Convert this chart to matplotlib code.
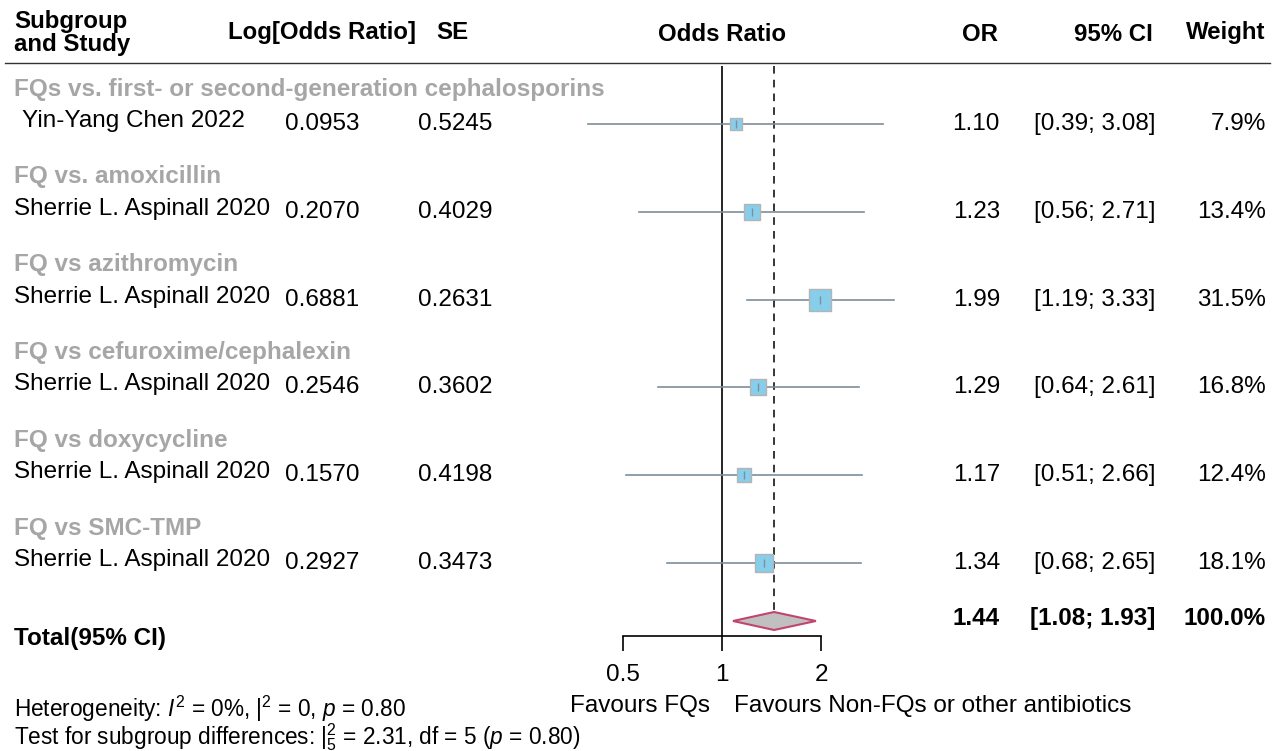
import numpy as np
import matplotlib
matplotlib.use("Agg")
import matplotlib.pyplot as plt
from matplotlib.transforms import blended_transform_factory
from matplotlib.lines import Line2D

plt.rcParams['font.family'] = ['Liberation Sans', 'DejaVu Sans']
plt.rcParams['mathtext.fontset'] = 'custom'
plt.rcParams['mathtext.rm'] = 'Liberation Sans'
plt.rcParams['mathtext.it'] = 'Liberation Sans:italic'
plt.rcParams['mathtext.bf'] = 'Liberation Sans:bold'

# data
groups = ["FQs vs. first- or second-generation cephalosporins",
          "FQ vs. amoxicillin",
          "FQ vs azithromycin",
          "FQ vs cefuroxime/cephalexin",
          "FQ vs doxycycline",
          "FQ vs SMC-TMP"]
studies = ["Yin-Yang Chen 2022"] + ["Sherrie L. Aspinall 2020"] * 5
log_or = ["0.0953", "0.2070", "0.6881", "0.2546", "0.1570", "0.2927"]
se = ["0.5245", "0.4029", "0.2631", "0.3602", "0.4198", "0.3473"]
odds = [1.10, 1.23, 1.99, 1.29, 1.17, 1.34]
ci_lo = [0.39, 0.56, 1.19, 0.64, 0.51, 0.68]
ci_hi = [3.08, 2.71, 3.33, 2.61, 2.66, 2.65]
weight = [7.9, 13.4, 31.5, 16.8, 12.4, 18.1]
tot_or, tot_lo, tot_hi, tot_w = 1.44, 1.08, 1.93, 100.0

W, H = 1277, 751
fig = plt.figure(figsize=(W / 100, H / 100), dpi=100)

# forest axes: x=1 at px 722, 99 px per doubling; rows in pixel units
ax = fig.add_axes([560 / W, (H - 636) / H, 350 / W, 570 / H])
ax.set_xscale('log', base=2)
ax.set_xlim(2 ** (-162 / 99), 2 ** (188 / 99))
ax.set_ylim(636, 66)
for s in ['top', 'left', 'right']:
    ax.spines[s].set_visible(False)
ax.spines['bottom'].set_bounds(0.5, 2)
ax.spines['bottom'].set_linewidth(1.2)
ax.set_xticks([0.5, 1, 2])
ax.set_xticklabels(['0.5', '1', '2'])
ax.minorticks_off()
ax.tick_params(axis='x', direction='out', length=11, width=1.2, pad=9, labelsize=17.5)
ax.set_yticks([])
ax.patch.set_visible(False)


def ypos(block, sub):
    return 89 + 87.8 * block + 34 * sub


row_y = [ypos(k, 1) + 1 for k in range(len(groups))]
diam_y, diam_h = 621, 9

ax.axvline(1, color='black', lw=1.2, zorder=1)
ax.vlines(tot_or, 66, diam_y - diam_h, colors='black', lw=1.1,
          linestyles=(0, (5, 4)), zorder=1)

for i in range(len(odds)):
    ax.plot([ci_lo[i], ci_hi[i]], [row_y[i], row_y[i]], color='#7d8e9c', lw=1.2, zorder=2)
    side = 23 * np.sqrt(weight[i] / max(weight))
    ax.scatter([odds[i]], [row_y[i]], marker='s', s=(side * 0.72) ** 2,
               facecolor='#87ceeb', edgecolor='#b4b4b4', linewidth=1.0, zorder=3)
    ax.plot([odds[i]], [row_y[i]], marker='|', ms=6, color='#7d8e9c', mew=1, zorder=4)

ax.fill([tot_lo, tot_or, tot_hi, tot_or],
        [diam_y, diam_y - diam_h, diam_y, diam_y + diam_h],
        facecolor='#c0c0c0', edgecolor='#c2456f', lw=1.5, zorder=3)

# table text
tr = blended_transform_factory(fig.transFigure, ax.transData)
fs = 17.5


def col(px, y, s, **kw):
    kw.setdefault('fontsize', fs)
    kw.setdefault('va', 'center')
    ax.text(px / W, y, s, transform=tr, **kw)


col(14, 33, "Subgroup\nand Study", fontweight='bold', fontsize=17.3, linespacing=1.0)
col(228, 32, "Log[Odds Ratio]", fontweight='bold', fontsize=17.3)
col(436, 32, "SE", fontweight='bold', fontsize=17.3)
col(722, 34, "Odds Ratio", fontweight='bold', fontsize=17.3, ha='center')
col(998, 34, "OR", fontweight='bold', fontsize=17.3, ha='right')
col(1153, 34, "95% CI", fontweight='bold', fontsize=17.3, ha='right')
col(1265, 32, "Weight", fontweight='bold', fontsize=17.3, ha='right')

fig.add_artist(Line2D([5 / W, 1270 / W], [(H - 63) / H, (H - 63) / H],
                      color='#333333', lw=1.0))

for k in range(len(groups)):
    col(14, ypos(k, 0), groups[k], fontweight='bold', color='#a6a6a6')
    yy = row_y[k]
    col(14 if k else 22, yy - 3, studies[k])
    col(285, yy, log_or[k])
    col(418, yy, se[k])
    col(1000, yy, f"{odds[k]:.2f}", ha='right')
    col(1155, yy, f"[{ci_lo[k]:.2f}; {ci_hi[k]:.2f}]", ha='right')
    col(1266, yy, f"{weight[k]:.1f}%", ha='right')

col(14, 638, "Total(95% CI)", fontweight='bold')
col(1000, 618, f"{tot_or:.2f}", ha='right', fontweight='bold')
col(1155, 618, f"[{tot_lo:.2f}; {tot_hi:.2f}]", ha='right', fontweight='bold')
col(1266, 618, f"{tot_w:.1f}%", ha='right', fontweight='bold')

fig.text(710 / W, 1 - 706 / H, "Favours FQs", ha='right', va='center', fontsize=fs)
fig.text(734 / W, 1 - 706 / H, "Favours Non-FQs or other antibiotics",
         ha='left', va='center', fontsize=fs)

fig.text(14 / W, 1 - 709 / H, r"Heterogeneity: $I^2$ = 0%, $|^2$ = 0, $p$ = 0.80",
         ha='left', va='center', fontsize=16.3)
fig.text(14 / W, 1 - 737 / H,
         r"Test for subgroup differences: $|^2_5$ = 2.31, df = 5 ($p$ = 0.80)",
         ha='left', va='center', fontsize=16.3)

fig.savefig("out.png", dpi=100)
